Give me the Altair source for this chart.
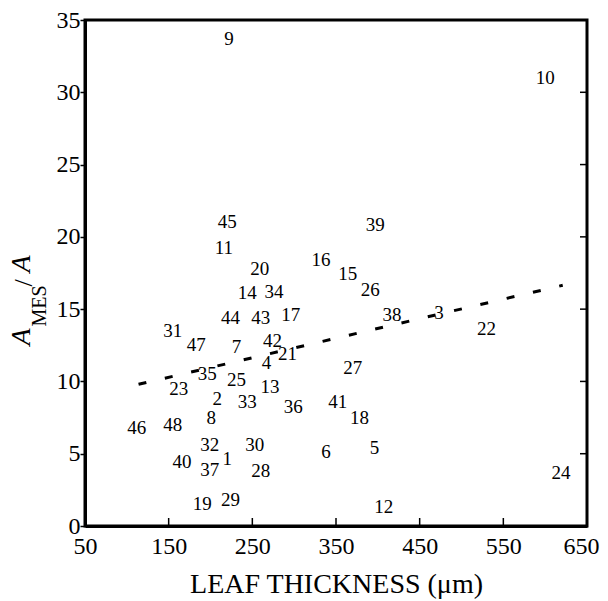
import altair as alt
import pandas as pd

# point labels (species numbers) and their coordinates
labels = ["9", "10", "45", "11", "20", "14", "34", "16", "39", "15", "26",
          "44", "43", "17", "38", "3", "22", "31", "47", "7", "42", "4", "21",
          "27", "35", "23", "25", "13", "2", "33", "36", "41", "18", "8", "46",
          "48", "32", "30", "6", "5", "40", "37", "1", "28", "19", "29", "12", "24"]
thickness = [222, 600, 220, 216, 259, 244, 276, 332, 397, 364, 391,
             224, 260, 296, 417, 473, 530, 155, 183, 231, 274, 267, 292,
             370, 196, 162, 231, 271, 208, 244, 299, 352, 378, 201, 112,
             155, 199, 253, 338, 396, 166, 199, 220, 260, 190, 224, 407, 619]
ames_ratio = [33.7, 31.0, 21.0, 19.2, 17.8, 16.1, 16.2, 18.4, 20.8, 17.4, 16.3,
              14.4, 14.4, 14.6, 14.6, 14.7, 13.6, 13.5, 12.5, 12.4, 12.8, 11.3, 11.9,
              10.9, 10.5, 9.5, 10.1, 9.6, 8.8, 8.6, 8.2, 8.6, 7.5, 7.5, 6.8,
              7.0, 5.6, 5.6, 5.1, 5.4, 4.4, 3.9, 4.6, 3.8, 1.5, 1.8, 1.3, 3.7]

# regression line end points
fit_x = [114, 621]
fit_y = [9.8, 16.65]

x_ticks = [50, 150, 250, 350, 450, 550, 650]
y_ticks = [0, 5, 10, 15, 20, 25, 30, 35]
inner_x_ticks = [150, 250, 350, 450, 550]
inner_y_ticks = [5, 10, 15, 20, 25, 30]

W, H = 502, 506
FONT = "Liberation Serif"

x_enc = alt.X("x:Q",
              scale=alt.Scale(domain=[50, 650], nice=False, zero=False),
              axis=alt.Axis(values=x_ticks, title="LEAF THICKNESS (μm)",
                            tickSize=0, labelPadding=8, titlePadding=12,
                            labelFlush=False,
                            labelAlign={"condition": {"test": "datum.value == 650", "value": "right"},
                                        "value": "center"},
                            labelOffset={"condition": {"test": "datum.value == 650", "value": 12},
                                         "value": 0}))
y_enc = alt.Y("y:Q",
              scale=alt.Scale(domain=[0, 35], nice=False, zero=True),
              axis=alt.Axis(values=y_ticks, title=None,
                            tickSize=5, labelPadding=0, labelFlush=False))

pts = pd.DataFrame({"x": thickness, "y": ames_ratio, "lab": labels})
points = alt.Chart(pts).mark_text(font=FONT, fontSize=19, color="black",
                                  baseline="middle", align="center").encode(
    x=x_enc, y=y_enc, text="lab:N")

fit = alt.Chart(pd.DataFrame({"x": fit_x, "y": fit_y})).mark_line(
    color="black", strokeWidth=3, strokeDash=[8, 19]).encode(x=x_enc, y=y_enc)

bt = alt.Chart(pd.DataFrame({"x": inner_x_ticks})).mark_rule(
    color="black", strokeWidth=1.5).encode(
    x=x_enc, y=alt.value(H), y2=alt.value(H - 8))

rt = alt.Chart(pd.DataFrame({"y": inner_y_ticks})).mark_rule(
    color="black", strokeWidth=1.5).encode(
    y=y_enc, x=alt.value(W), x2=alt.value(W - 7))


def title_piece(txt, px, py, size, style):
    return alt.Chart(pd.DataFrame({"t": [txt]})).mark_text(
        font=FONT, fontSize=size, fontStyle=style, angle=270,
        align="center", baseline="middle", color="black").encode(
        text="t:N", x=alt.value(px), y=alt.value(py))


ytitle = (title_piece("A", -63, 317, 28, "italic")
          + title_piece("MES", -45, 286, 20, "normal")
          + title_piece("/", -61, 263, 26, "normal")
          + title_piece("A", -63, 244, 28, "italic"))

chart = alt.layer(fit, bt, rt, points, ytitle).properties(
    width=W, height=H,
    autosize=alt.AutoSizeParams(type="none"),
    padding={"left": 77, "top": 12, "right": 13, "bottom": 75},
).configure_view(
    stroke="black", strokeWidth=3
).configure_axis(
    labelFont=FONT, titleFont=FONT, labelFontSize=24, titleFontSize=28,
    titleFontWeight="normal", labelColor="black", titleColor="black",
    domainColor="black", domainWidth=3, tickColor="black", tickWidth=1.5,
    grid=False
)

chart.save("out.html", embed_options={"renderer": "svg", "actions": False})
